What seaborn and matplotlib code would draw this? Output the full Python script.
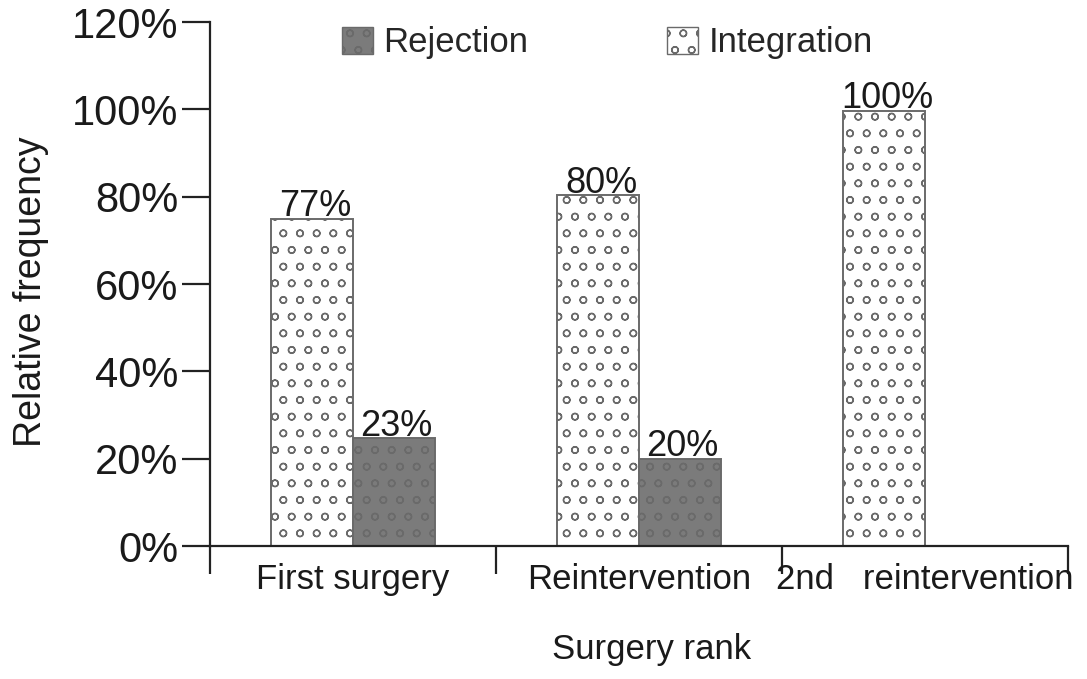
import matplotlib
matplotlib.use("Agg")
import matplotlib.pyplot as plt
from matplotlib.patches import Patch
import seaborn as sns
import pandas as pd

categories = ["First surgery", "Reintervention", "2nd   reintervention"]
integration = [75.0, 80.3, 99.7]
rejection = [24.7, 20.0, 0.0]
integration_labels = ["77%", "80%", "100%"]
rejection_labels = ["23%", "20%", ""]
yticks = [0, 20, 40, 60, 80, 100, 120]
ytick_labels = ["0%", "20%", "40%", "60%", "80%", "100%", "120%"]

sns.set_style("white")
plt.rcParams["font.family"] = ["Liberation Sans", "DejaVu Sans"]
plt.rcParams["hatch.linewidth"] = 1.0

rows = []
for c, v in zip(categories, integration):
    rows.append({"cat": c, "group": "Integration", "value": v})
for c, v in zip(categories, rejection):
    rows.append({"cat": c, "group": "Rejection", "value": v})
df = pd.DataFrame(rows)

fig = plt.figure(figsize=(10.87, 6.79), dpi=100)
ax = fig.add_axes([210 / 1087, 1 - 546 / 679, (1068 - 210) / 1087, (546 - 22) / 679])

edge = "#6a6a6a"
sns.barplot(data=df, x="cat", y="value", hue="group", order=categories,
            hue_order=["Integration", "Rejection"],
            palette={"Integration": "white", "Rejection": "#7b7b7b"},
            saturation=1, width=0.57, edgecolor=edge, linewidth=1.4,
            legend=False, ax=ax)

for cont, labels in zip(ax.containers, [integration_labels, rejection_labels]):
    for bar, lab in zip(cont, labels):
        bar.set_hatch("o")
        if bar.get_height() == 0:
            bar.set_linewidth(0)
            bar.set_hatch(None)
        if lab:
            ax.text(bar.get_x() + bar.get_width() / 2 + 0.01, bar.get_height() + 0.6, lab,
                    ha="center", va="baseline", fontsize=26, color="#1a1a1a")

ax.set_xlim(-0.5, 2.5)
ax.set_ylim(0, 120)
ax.set_yticks(yticks)
ax.set_yticklabels(ytick_labels, fontsize=30, color="#1a1a1a")
ax.set_xticks([-0.5, 0.5, 1.5, 2.5])
ax.set_xticklabels([])
ax.set_xticks([0, 1, 2], minor=True)
ax.set_xticklabels(categories, minor=True, fontsize=25, color="#1a1a1a")
ax.tick_params(axis="x", which="major", length=20, width=1.6, direction="out",
               color="#222222", bottom=True)
ax.tick_params(axis="x", which="minor", length=0, pad=12, bottom=True)
ax.tick_params(axis="y", length=20, width=1.6, direction="out", color="#222222",
               pad=3, left=True)
ax.set_xlabel("")
ax.set_ylabel("")
for s in ["top", "right"]:
    ax.spines[s].set_visible(False)
for s in ["left", "bottom"]:
    ax.spines[s].set_linewidth(1.6)
    ax.spines[s].set_color("#222222")

fig.text(31 / 1087, 1 - 292 / 679, "Relative frequency", rotation=90,
         ha="center", va="center", fontsize=27, color="#1a1a1a")
fig.text(652 / 1087, 1 - 650 / 679, "Surgery rank", ha="center", va="center",
         fontsize=25, color="#1a1a1a")

handles = [Patch(facecolor="#7b7b7b", edgecolor=edge, hatch="o", label="Rejection"),
           Patch(facecolor="white", edgecolor=edge, hatch="o", label="Integration")]
ax.legend(handles=handles, loc="center", bbox_to_anchor=(0.463, 0.96),
          bbox_transform=ax.transAxes, ncol=2, frameon=False, fontsize=25,
          handlelength=0.9, handleheight=0.85, handletextpad=0.3,
          columnspacing=4.0)

fig.savefig("out.png", dpi=100)
